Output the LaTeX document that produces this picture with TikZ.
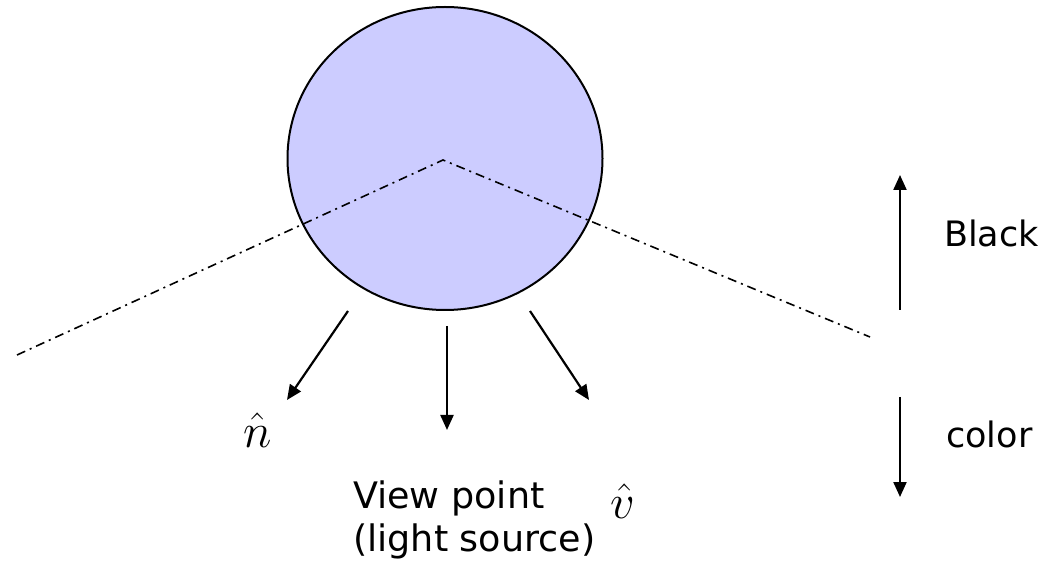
\documentclass[tikz,border=0pt]{standalone}
\usepackage{fontspec}
\setmainfont{DejaVu Sans}
\usetikzlibrary{shapes.geometric,arrows.meta}
\begin{document}
\begin{tikzpicture}[x=1pt,y=-1pt,
  ball/.style={draw=black, line width=2pt, fill={rgb,255:red,204;green,204;blue,255}, ellipse, inner sep=0pt},
  ray/.style={line width=1.6pt, dash pattern=on 9pt off 5pt on 2pt off 5pt},
  vec/.style={line width=2.2pt, -{Triangle[length=15pt,width=13pt]}},
  lbl/.style={inner sep=0pt, font=\fontsize{35}{42}\selectfont},
  mlbl/.style={inner sep=0pt, font=\fontsize{24.88}{30}\selectfont, scale=1.95}]
\useasboundingbox (0,0) rectangle (1045,561);
\node[ball, minimum width=315pt, minimum height=303pt] (ball) at (445,158.5) {};
\coordinate (apex) at (443,160);
\coordinate (rayL) at (17,355);
\coordinate (rayR) at (870,337);
\draw[ray] (rayL) -- (apex) -- (rayR);
% normal-like arrows
\coordinate (a1s) at (348,311);
\coordinate (a1e) at (287,400);
\coordinate (a2s) at (447,326);
\coordinate (a2e) at (447,430);
\coordinate (a3s) at (530,311);
\coordinate (a3e) at (589,400);
\draw[vec] (a1s) -- (a1e);
\draw[vec] (a2s) -- (a2e);
\draw[vec] (a3s) -- (a3e);
% scale arrows
\coordinate (upS) at (900,310);
\coordinate (upE) at (900,175);
\coordinate (dnS) at (900,397);
\coordinate (dnE) at (900,497);
\draw[vec] (upS) -- (upE);
\draw[vec] (dnS) -- (dnE);
% labels
\node[lbl, anchor=base west] (black) at (944,247) {Black};
\node[lbl, anchor=base west] (color) at (946,447) {color};
\node[lbl, anchor=north west, align=left, font=\fontsize{36.5}{43}\selectfont] (view) at (353,481) {View point\\(light source)};
\node[mlbl, anchor=base] (nhat) at (258,447) {$\hat{n}$};
\node[mlbl, anchor=base] (vhat) at (623,518) {$\hat{v}$};
\end{tikzpicture}
\end{document}
